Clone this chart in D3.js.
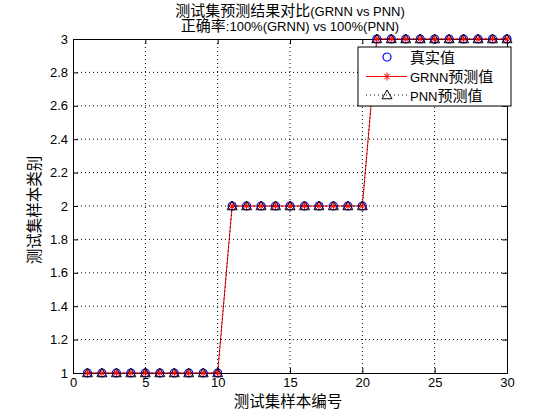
<!DOCTYPE html>
<html>
<head>
<meta charset="utf-8">
<script src="https://cdn.jsdelivr.net/npm/d3@7"></script>
<style>
  body { margin: 0; background: #fff; }
  text { font-family: "Liberation Sans", Arial, "Noto Sans CJK SC", sans-serif; }
</style>
</head>
<body>
<div id="chart"></div>
<script>
// data: 30 test samples
const sampleIndex = d3.range(1, 31);
const trueClass = [1,1,1,1,1,1,1,1,1,1, 2,2,2,2,2,2,2,2,2,2, 3,3,3,3,3,3,3,3,3,3];
const grnnPred  = [1,1,1,1,1,1,1,1,1,1, 2,2,2,2,2,2,2,2,2,2, 3,3,3,3,3,3,3,3,3,3];
const pnnPred   = [1,1,1,1,1,1,1,1,1,1, 2,2,2,2,2,2,2,2,2,2, 3,3,3,3,3,3,3,3,3,3];
const xTicks = [0, 5, 10, 15, 20, 25, 30];
const yTicks = [1, 1.2, 1.4, 1.6, 1.8, 2, 2.2, 2.4, 2.6, 2.8, 3];
const titleLines = ["测试集预测结果对比(GRNN vs PNN)", "正确率:100%(GRNN) vs 100%(PNN)"];
const legendLabels = ["真实值", "GRNN预测值", "PNN预测值"];

const W = 560, H = 420;
const margin = {top: 39, right: 53, bottom: 47, left: 73};
const width = W - margin.left - margin.right,
      height = H - margin.top - margin.bottom;

const svg = d3.select("#chart").append("svg")
    .attr("width", W).attr("height", H);

const g = svg.append("g")
    .attr("transform", "translate(" + margin.left + "," + margin.top + ")");

const x = d3.scaleLinear().domain([0, 30]).range([0, width]);
const y = d3.scaleLinear().domain([1, 3]).range([height, 0]);

// write text with CJK runs a bit bigger, like the original renderer
function richText(sel, str, latin, cjk) {
  const runs = str.match(/[\u4e00-\u9fff]+|[^\u4e00-\u9fff]+/g);
  runs.forEach(function(r) {
    const isCjk = /[\u4e00-\u9fff]/.test(r);
    sel.append("tspan")
      .style("font-family", isCjk ? "'Noto Sans CJK SC', sans-serif" : "'Liberation Sans', Arial, sans-serif")
      .style("font-size", (isCjk ? cjk : latin) + "px")
      .text(r);
  });
}

// grid
g.append("g").selectAll("line")
  .data(xTicks.slice(1, -1)).enter().append("line")
    .attr("x1", d => x(d)).attr("x2", d => x(d))
    .attr("y1", 0).attr("y2", height)
    .attr("stroke", "#000").attr("stroke-width", 1)
    .attr("stroke-dasharray", "1,3");
g.append("g").selectAll("line")
  .data(yTicks.slice(1, -1)).enter().append("line")
    .attr("x1", 0).attr("x2", width)
    .attr("y1", d => y(d)).attr("y2", d => y(d))
    .attr("stroke", "#000").attr("stroke-width", 1)
    .attr("stroke-dasharray", "1,3");

// axes with inward ticks
const xAxis = g.append("g")
    .attr("transform", "translate(0," + height + ")")
    .call(d3.axisBottom(x).tickValues(xTicks).tickSizeInner(-5).tickSizeOuter(0).tickPadding(5));
const xTop = g.append("g")
    .call(d3.axisTop(x).tickValues(xTicks).tickSizeInner(-5).tickSizeOuter(0).tickFormat(""));
const yAxis = g.append("g")
    .call(d3.axisLeft(y).tickValues(yTicks).tickSizeInner(-5).tickSizeOuter(0).tickPadding(5).tickFormat(d3.format("~g")));
const yRight = g.append("g")
    .attr("transform", "translate(" + width + ",0)")
    .call(d3.axisRight(y).tickValues(yTicks).tickSizeInner(-5).tickSizeOuter(0).tickFormat(""));

[xAxis, xTop, yAxis, yRight].forEach(function(a) {
  a.select(".domain").attr("stroke", "#000");
  a.selectAll(".tick line").attr("stroke", "#000");
  a.selectAll("text")
    .style("font-family", "'Liberation Sans', Arial, sans-serif")
    .style("font-size", "13px").attr("fill", "#000");
});

// lines
const line = d3.line().x((d, i) => x(sampleIndex[i])).y(d => y(d));

g.append("path").datum(grnnPred)
    .attr("d", line).attr("fill", "none")
    .attr("stroke", "#ff0000").attr("stroke-width", 1);
g.append("path").datum(pnnPred)
    .attr("d", line).attr("fill", "none")
    .attr("stroke", "#000").attr("stroke-width", 1)
    .attr("stroke-dasharray", "1,3");

// markers
function star(sel, cx, cy, r) {
  const p = sel.append("g").attr("transform", "translate(" + cx + "," + cy + ")")
    .attr("stroke", "#ff0000").attr("stroke-width", 1);
  p.append("line").attr("x1", -r).attr("x2", r).attr("y1", 0).attr("y2", 0);
  p.append("line").attr("x1", 0).attr("x2", 0).attr("y1", -r).attr("y2", r);
  p.append("line").attr("x1", -r * 0.7).attr("x2", r * 0.7).attr("y1", -r * 0.7).attr("y2", r * 0.7);
  p.append("line").attr("x1", -r * 0.7).attr("x2", r * 0.7).attr("y1", r * 0.7).attr("y2", -r * 0.7);
}
function tri(sel, cx, cy, r) {
  sel.append("path")
    .attr("d", "M" + cx + "," + (cy - r) + "L" + (cx + r) + "," + (cy + r * 0.75) + "L" + (cx - r) + "," + (cy + r * 0.75) + "Z")
    .attr("fill", "none").attr("stroke", "#000").attr("stroke-width", 1);
}

const marks = g.append("g");
trueClass.forEach(function(v, i) {
  marks.append("circle")
    .attr("cx", x(sampleIndex[i])).attr("cy", y(v)).attr("r", 4)
    .attr("fill", "none").attr("stroke", "#0000ff").attr("stroke-width", 1.2);
});
grnnPred.forEach(function(v, i) { star(marks, x(sampleIndex[i]), y(v), 4); });
pnnPred.forEach(function(v, i) { tri(marks, x(sampleIndex[i]), y(v), 5); });

// legend
const lg = svg.append("g").attr("transform", "translate(358,47)");
lg.append("rect").attr("width", 153).attr("height", 59)
  .attr("fill", "#fff").attr("stroke", "#000").attr("stroke-width", 1);
const rowY = [10, 29.5, 48];
const mx = 29;
lg.append("circle").attr("cx", mx).attr("cy", rowY[0]).attr("r", 4)
  .attr("fill", "none").attr("stroke", "#0000ff").attr("stroke-width", 1.2);
lg.append("line").attr("x1", 8).attr("x2", 49).attr("y1", rowY[1]).attr("y2", rowY[1])
  .attr("stroke", "#ff0000");
star(lg, mx, rowY[1], 4);
lg.append("line").attr("x1", 8).attr("x2", 49).attr("y1", rowY[2]).attr("y2", rowY[2])
  .attr("stroke", "#000").attr("stroke-dasharray", "1,3");
tri(lg, mx, rowY[2], 5);
legendLabels.forEach(function(t, i) {
  const tx = lg.append("text").attr("x", 52).attr("y", rowY[i] + 5.5).attr("fill", "#000");
  richText(tx, t, 13, 15);
});

// title
titleLines.forEach(function(t, i) {
  const tx = svg.append("text")
    .attr("x", margin.left + width / 2).attr("y", 16 + i * 15)
    .attr("text-anchor", "middle").attr("fill", "#000");
  richText(tx, t, 13, 15);
});

// axis labels
const xl = svg.append("text")
  .attr("x", margin.left + width / 2 - 2).attr("y", 407)
  .attr("text-anchor", "middle").attr("fill", "#000");
richText(xl, "测试集样本编号", 13, 15.5);

const yl = svg.append("text")
  .attr("transform", "translate(40," + (margin.top + height / 2 + 4) + ")rotate(-90)")
  .attr("text-anchor", "middle").attr("fill", "#000");
richText(yl, "测试集样本类别", 13, 15.5);
</script>
</body>
</html>
